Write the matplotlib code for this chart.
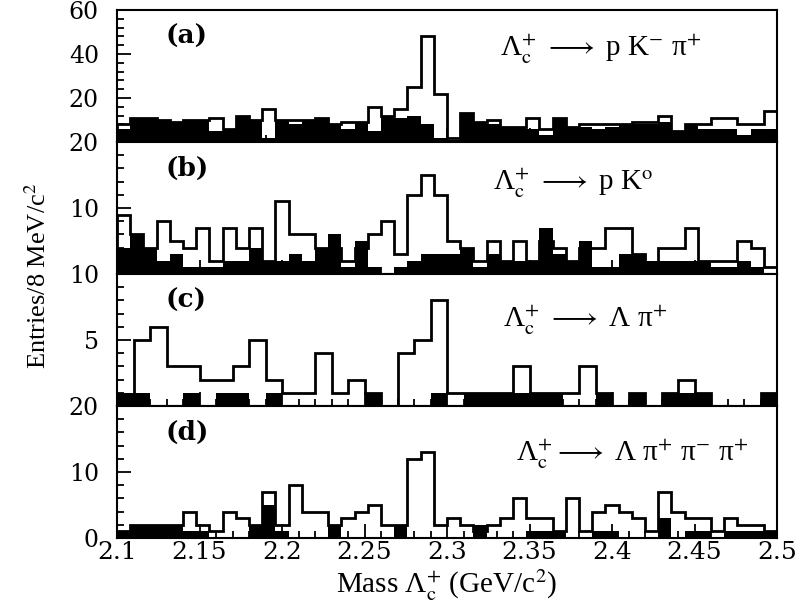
import numpy as np
import matplotlib
matplotlib.use("Agg")
import matplotlib.pyplot as plt
from matplotlib.ticker import MultipleLocator, FixedLocator, FixedFormatter, FormatStrFormatter

plt.rcParams["mathtext.fontset"] = "stix"
plt.rcParams["font.family"] = ["DejaVu Serif"]

# Mass window (GeV/c^2)
M_LO, M_HI = 2.1, 2.5

# (a) Lambda_c -> p K- pi+ , 8 MeV bins
open_a = [8, 11, 11, 10, 9, 10, 10, 11, 6, 12, 10, 15, 10, 10, 10, 11, 8, 9, 9, 16,
          12, 15, 25, 48, 22, 2, 13, 9, 10, 7, 7, 11, 6, 11, 7, 8, 8, 8, 8, 9,
          9, 12, 5, 8, 8, 11, 11, 8, 8, 14]
bkg_a = [6, 11, 11, 10, 9, 10, 10, 5, 6, 12, 10, 2, 10, 8, 10, 11, 8, 6, 9, 5,
         12, 11, 12, 8, 2, 1, 13, 9, 8, 7, 7, 6, 3, 11, 7, 7, 6, 7, 8, 8,
         8, 9, 5, 8, 6, 6, 6, 3, 6, 6]

# (b) Lambda_c -> p K0 , 8 MeV bins
open_b = [9, 6, 4, 8, 5, 4, 7, 2, 7, 4, 7, 2, 11, 6, 6, 4, 4, 2, 4, 6,
          8, 3, 12, 15, 12, 5, 4, 2, 5, 2, 5, 2, 5, 4, 2, 4, 4, 7, 7, 3,
          1, 4, 4, 7, 2, 2, 2, 5, 4, 1]
bkg_b = [4, 6, 4, 2, 3, 1, 1, 1, 2, 2, 4, 2, 2, 3, 2, 4, 6, 1, 5, 1,
         0, 1, 2, 3, 3, 3, 4, 1, 3, 2, 2, 2, 7, 3, 2, 5, 1, 1, 3, 3,
         2, 2, 2, 2, 2, 1, 1, 2, 1, 0]

# (c) Lambda_c -> Lambda pi+ , 10 MeV bins
open_c = [0, 5, 6, 3, 3, 2, 2, 3, 5, 2, 1, 1, 4, 1, 2, 1, 0, 4, 5, 8,
          1, 1, 1, 1, 3, 1, 1, 1, 3, 1, 0, 1, 0, 1, 2, 1, 0, 0, 0, 1]
bkg_c = [1, 1, 0, 0, 1, 0, 1, 1, 0, 1, 0, 0, 0, 0, 0, 1, 0, 0, 0, 1,
         0, 1, 1, 1, 1, 1, 1, 0, 0, 1, 0, 1, 0, 1, 1, 1, 0, 0, 0, 1]

# (d) Lambda_c -> Lambda pi+ pi- pi+ , 8 MeV bins
open_d = [1, 2, 2, 2, 2, 4, 2, 1, 4, 3, 2, 7, 2, 8, 4, 4, 2, 3, 4, 5,
          2, 2, 12, 13, 2, 3, 2, 1, 2, 3, 6, 3, 3, 1, 6, 1, 4, 5, 4, 3,
          1, 7, 4, 3, 3, 1, 3, 2, 2, 1]
bkg_d = [1, 2, 2, 2, 2, 1, 1, 0, 0, 0, 2, 5, 1, 0, 0, 0, 2, 0, 0, 0,
         0, 2, 0, 0, 0, 0, 0, 2, 0, 0, 0, 1, 1, 1, 0, 0, 1, 1, 0, 0,
         0, 3, 0, 1, 1, 0, 1, 1, 1, 1]

x_ticks = [2.1, 2.15, 2.2, 2.25, 2.3, 2.35, 2.4, 2.45, 2.5]

LC = r"Λ$_{\mathrm{c}}^{+}$"
ARROW = r"$\longrightarrow$"
panels = [
    ("(a)", LC + " " + ARROW + r" p K$^{-}$ π$^{+}$", open_a, bkg_a,
     60, [20, 40, 60], ["20", "40", "60"], 4),
    ("(b)", LC + " " + ARROW + r" p K$^{\mathrm{o}}$", open_b, bkg_b,
     20, [10, 20], ["10", "20"], 2),
    ("(c)", LC + " " + ARROW + r" Λ π$^{+}$", open_c, bkg_c,
     10, [5, 10], ["5", "10"], 1),
    ("(d)", LC + ARROW + r" Λ π$^{+}$ π$^{-}$ π$^{+}$", open_d, bkg_d,
     20, [0, 10, 20], ["0", "10", "20"], 2),
]
reac_pos = [(0.58, 0.70), (0.57, 0.68), (0.585, 0.645), (0.605, 0.63)]

fig = plt.figure(figsize=(7.99, 6.10), dpi=100)
left, width = 117 / 799, 660 / 799
bottom, top = 1 - 538 / 610, 1 - 10 / 610
h = (top - bottom) / 4

for i, (tag, reac, tot, bkg, ymax, yt, ytl, minor) in enumerate(panels):
    ax = fig.add_axes([left, top - (i + 1) * h, width, h])
    edges = np.linspace(M_LO, M_HI, len(tot) + 1)
    ax.stairs(bkg, edges, fill=True, color="black", lw=0)
    ax.stairs(tot, edges, color="black", lw=2.0, baseline=0)

    ax.set_xlim(M_LO, M_HI)
    ax.set_ylim(0, ymax)
    ax.yaxis.set_major_locator(FixedLocator(yt))
    ax.yaxis.set_major_formatter(FixedFormatter(ytl))
    ax.yaxis.set_minor_locator(MultipleLocator(minor))
    ax.xaxis.set_major_locator(FixedLocator(x_ticks))
    ax.xaxis.set_minor_locator(MultipleLocator(0.01))
    ax.xaxis.set_major_formatter(FormatStrFormatter("%g"))
    ax.tick_params(which="both", direction="in", top=False, right=False, width=1.3)
    ax.tick_params(which="major", length=10)
    ax.tick_params(which="minor", length=5)
    ax.tick_params(axis="y", labelsize=17, pad=13)
    ax.tick_params(axis="x", labelsize=18, pad=2, labelbottom=(i == 3))
    for s in ax.spines.values():
        s.set_linewidth(1.5)

    ax.text(0.073, 0.80, tag, transform=ax.transAxes, fontsize=19,
            fontweight="bold", va="center")
    rx, ry = reac_pos[i]
    ax.text(rx, ry, reac, transform=ax.transAxes, fontsize=21, va="center",
            family=["Liberation Serif", "DejaVu Serif"])

fig.text(38 / 799, 1 - 276 / 610, r"Entries/8 MeV/c$^2$", rotation=90,
         ha="center", va="center", fontsize=19, family="Liberation Serif")
fig.text(left + width / 2, 1 - 585 / 610, "Mass " + LC + r" (GeV/c$^2$)",
         ha="center", va="center", fontsize=21, family=["Liberation Serif", "DejaVu Serif"])

fig.savefig("out.png", dpi=100)
